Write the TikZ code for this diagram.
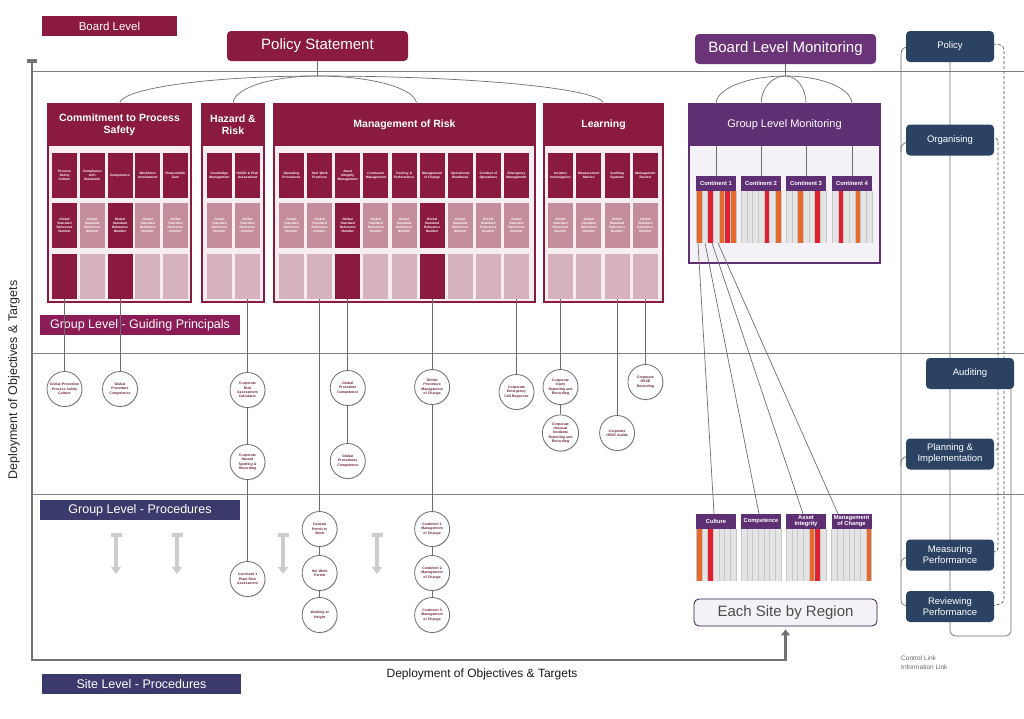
\documentclass[tikz,border=0pt]{standalone}
\usepackage{fontspec}
\setmainfont{Liberation Sans}
\usetikzlibrary{arrows.meta,shadows}
\definecolor{maroon}{HTML}{8A1A3E}
\definecolor{roseA}{HTML}{C48D9B}
\definecolor{roseB}{HTML}{D6B3BC}
\definecolor{paleR}{HTML}{F8EEF1}
\definecolor{gpmag}{HTML}{8C1C56}
\definecolor{procnav}{HTML}{3B3A6C}
\definecolor{purp}{HTML}{5F2F73}
\definecolor{purpL}{HTML}{6B3479}
\definecolor{paleP}{HTML}{F5F2F7}
\definecolor{navy}{HTML}{2B4263}
\definecolor{orng}{HTML}{E8692C}
\definecolor{redd}{HTML}{DF2130}
\definecolor{stripe}{HTML}{E4E4E4}
\definecolor{lineg}{HTML}{6E6E6E}
\definecolor{circtxt}{HTML}{6A1F36}
\newcommand\mystripes[4]{%
  \foreach \cc [count=\kk] in {#4}{%
    \fill[fill=\cc] ({#1+(\kk-1)*40/7},#2) rectangle ({#1+\kk*40/7},#3);
    \draw[draw=black!22, line width=0.3pt] ({#1+(\kk-1)*40/7},#2) -- ({#1+(\kk-1)*40/7},#3);
  }%
  \draw[draw=black!22, line width=0.3pt] ({#1+40},#2) -- ({#1+40},#3);
}
\begin{document}
\begin{tikzpicture}[x=1pt,y=-1pt,
  cellbox/.style={minimum width=25pt, minimum height=45pt, inner sep=0pt, align=center, text width=24pt, text=white, font=\fontsize{3.3}{4}\selectfont\bfseries},
  frame/.style={draw=maroon, line width=1.2pt, fill=paleR},
  hdr/.style={fill=maroon, text=white, font=\fontsize{10.5}{12}\selectfont\bfseries, align=center, inner sep=0pt, minimum height=42pt},
  conn/.style={draw=lineg, line width=0.7pt},
  hline/.style={draw=black!50, line width=0.8pt},
  thickline/.style={draw=black!55, line width=2.6pt},
  circ/.style={circle, draw=lineg, line width=0.8pt, fill=white, minimum size=35pt, inner sep=0pt, align=center, text width=30pt, font=\fontsize{3.5}{4.3}\selectfont\bfseries, text=circtxt, drop shadow={opacity=0.25, shadow xshift=0.6pt, shadow yshift=-0.9pt}},
  nav/.style={rounded corners=4pt, fill=navy, text=white, minimum width=88pt, minimum height=31pt, inner sep=0pt, align=center, font=\fontsize{9.5}{11}\selectfont},
  conth/.style={fill=purp, text=white, minimum width=40pt, minimum height=15pt, inner sep=0pt, align=center, font=\fontsize{5.8}{6.2}\selectfont\bfseries},
  lvl/.style={text=white, inner sep=0pt, minimum height=20pt},
  garrow/.style={draw=black!20, line width=3.5pt, {Bar[width=11pt]}-{Triangle[width=10pt,length=7pt]}},
  dsh/.style={draw=black!70, line width=0.7pt, dashed, dash pattern=on 3pt off 2pt}
]
\useasboundingbox (0,0) rectangle (1024,718);
\fill[white] (0,0) rectangle (1024,718);

% horizontal level lines
\draw[hline] (32,71) -- (1024,71);
\draw[hline] (32,353) -- (1024,353);
\draw[hline] (32,494) -- (1024,494);

% level labels
\node[lvl, fill=maroon, minimum width=135pt, font=\fontsize{11.5}{13}\selectfont] (board) at (109.5,26) {Board Level};
\node[lvl, fill=gpmag, minimum width=200pt, font=\fontsize{12.5}{14}\selectfont] (glgp) at (140,325) {Group Level - Guiding Principals};
\node[lvl, fill=procnav, minimum width=200pt, font=\fontsize{12.5}{14}\selectfont] (glpr) at (140,510) {Group Level - Procedures};
\node[lvl, fill=procnav, minimum width=199pt, font=\fontsize{12.5}{14}\selectfont] (slpr) at (141.5,684) {Site Level - Procedures};

% vertical label
\node[rotate=90, font=\fontsize{12.5}{14}\selectfont, text=black!85] (vlab) at (14,380) {Deployment of Objectives \& Targets};
\node[font=\fontsize{12}{14}\selectfont, text=black!90] (btxt) at (482,674) {Deployment of Objectives \& Targets};

% Policy statement & board monitoring
\node[fill=maroon, rounded corners=4pt, minimum width=181pt, minimum height=30pt, text=white, inner sep=0pt, font=\fontsize{15}{17}\selectfont] (ps) at (317.5,46) {Policy Statement};
\node[fill=purpL, rounded corners=4pt, minimum width=181pt, minimum height=30pt, text=white, inner sep=0pt, font=\fontsize{15}{17}\selectfont] (blm) at (785.5,49) {Board Level Monitoring};

% ---- Commitment to Process Safety
\draw[frame] (48,104) rectangle (191,302);
\node[hdr, minimum width=143pt] (cpsH) at (119.5,125) {Commitment to Process\\Safety};
\foreach \i/\tx in {1/{Process\\Safety\\Culture},2/{Compliance\\with\\Standards},3/{Competence},4/{Workforce\\Involvement},5/{Responsible\\Care}}
  \node[cellbox, fill=maroon] (cps-1-\i) at ({64.5+27.75*(\i-1)},175.5) {\tx};
\foreach \i/\f in {1/maroon,2/roseA,3/maroon,4/roseA,5/roseA}
  \node[cellbox, fill=\f] (cps-2-\i) at ({64.5+27.75*(\i-1)},225.5) {Global\\Standard\\Reference\\Number};
\foreach \i/\f in {1/maroon,2/roseB,3/maroon,4/roseB,5/roseB}
  \node[cellbox, fill=\f] (cps-3-\i) at ({64.5+27.75*(\i-1)},276.5) {};

% ---- Hazard & Risk
\draw[frame] (202,104) rectangle (264,302);
\node[hdr, minimum width=62pt] (hrH) at (233,125) {Hazard \&\\Risk};
\foreach \i/\tx in {1/{Knowledge\\Management},2/{HAZID \& Risk\\Assessment}}
  \node[cellbox, fill=maroon] (hr-1-\i) at ({219.5+28*(\i-1)},175.5) {\tx};
\foreach \i in {1,2}{
  \node[cellbox, fill=roseA] (hr-2-\i) at ({219.5+28*(\i-1)},225.5) {Global\\Standard\\Reference\\Number};
  \node[cellbox, fill=roseB] (hr-3-\i) at ({219.5+28*(\i-1)},276.5) {};
}

% ---- Management of Risk
\draw[frame] (274,104) rectangle (535,302);
\node[hdr, minimum width=261pt] (mrH) at (404.5,125) {Management of Risk};
\foreach \i/\tx in {1/{Operating\\Procedures},2/{Safe Work\\Practices},3/{Asset\\Integrity\\Management},4/{Contractor\\Management},5/{Training \&\\Performance},6/{Management\\of Change},7/{Operational\\Readiness},8/{Conduct of\\Operations},9/{Emergency\\Management}}
  \node[cellbox, fill=maroon] (mr-1-\i) at ({291.5+28.125*(\i-1)},175.5) {\tx};
\foreach \i/\f in {1/roseA,2/roseA,3/maroon,4/roseA,5/roseA,6/maroon,7/roseA,8/roseA,9/roseA}
  \node[cellbox, fill=\f] (mr-2-\i) at ({291.5+28.125*(\i-1)},225.5) {Global\\Standard\\Reference\\Number};
\foreach \i/\f in {1/roseB,2/roseB,3/maroon,4/roseB,5/roseB,6/maroon,7/roseB,8/roseB,9/roseB}
  \node[cellbox, fill=\f] (mr-3-\i) at ({291.5+28.125*(\i-1)},276.5) {};

% ---- Learning
\draw[frame] (544,104) rectangle (663,302);
\node[hdr, minimum width=119pt] (lnH) at (603.5,125) {Learning};
\foreach \i/\tx in {1/{Incident\\Investigation},2/{Measurement\\Metrics},3/{Auditing\\Systems},4/{Management\\Review}}
  \node[cellbox, fill=maroon] (ln-1-\i) at ({560.5+28.3*(\i-1)},175.5) {\tx};
\foreach \i in {1,...,4}{
  \node[cellbox, fill=roseA] (ln-2-\i) at ({560.5+28.3*(\i-1)},225.5) {Global\\Standard\\Reference\\Number};
  \node[cellbox, fill=roseB] (ln-3-\i) at ({560.5+28.3*(\i-1)},276.5) {};
}

% arcs from policy statement
\coordinate (psj) at (317.5,76);
\draw[conn] (ps.south) -- (psj);
\draw[conn] (psj) to[out=180,in=90,out distance=110pt,in distance=15pt] (cpsH.north);
\draw[conn] (psj) to[out=180,in=90,out distance=48pt,in distance=15pt] (hrH.north);
\draw[conn] (psj) to[out=0,in=90,out distance=55pt,in distance=15pt] ([xshift=12pt]mrH.north);
\draw[conn] (psj) to[out=0,in=90,out distance=157pt,in distance=15pt] (lnH.north);

% ---- Group Level Monitoring
\draw[draw=purp, line width=1.2pt, fill=paleP] (689,104) rectangle (880,263);
\node[fill=purp, text=white, minimum width=191pt, minimum height=42pt, inner sep=0pt, font=\fontsize{11}{13}\selectfont] (glmH) at (784.5,125) {Group Level Monitoring};
\foreach \i/\x in {1/716,2/761,3/806,4/852}
  \node[conth] (ct\i) at (\x,183.5) {Continent \i};
\mystripes{696}{191}{243}{orng,stripe,redd,stripe,orng,redd,orng}
\mystripes{741}{191}{243}{stripe,stripe,stripe,stripe,redd,stripe,orng}
\mystripes{786}{191}{243}{stripe,stripe,orng,stripe,stripe,redd,stripe}
\mystripes{832}{191}{243}{stripe,redd,stripe,stripe,orng,stripe,stripe}
\coordinate (blmj) at (785.5,76);
\draw[conn] (blm.south) -- (blmj);
\foreach \i/\o/\d in {1/180/38,2/180/14,3/0/12,4/0/37}{
  \draw[conn] (blmj) to[out=\o,in=90,out distance=\d pt,in distance=15pt] (glmH.north -| ct\i.north);
  \draw[conn] (glmH.south -| ct\i.north) -- (ct\i.north);
}

% ---- Site level monitoring
\foreach \i/\x/\tx in {1/716/{Culture},2/761/{Competence},3/806/{Asset\\Integrity},4/851.5/{Management\\of Change}}
  \node[conth] (st\i) at (\x,521.5) {\tx};
\mystripes{696}{529}{581}{orng,stripe,redd,stripe,stripe,stripe,stripe}
\mystripes{741}{529}{581}{stripe,stripe,stripe,stripe,stripe,stripe,stripe}
\mystripes{786}{529}{581}{stripe,stripe,stripe,stripe,orng,redd,stripe}
\mystripes{831.5}{529}{581}{stripe,stripe,stripe,stripe,stripe,stripe,orng}
\coordinate (ca1) at (698,243);
\coordinate (ca2) at (705,243);
\coordinate (ca3) at (712,243);
\coordinate (ca4) at (718,243);
\draw[conn] (ca1) -- ([xshift=-2pt]st1.north);
\draw[conn] (ca2) -- ([xshift=-2pt]st2.north);
\draw[conn] (ca3) -- ([xshift=-3pt]st3.north);
\draw[conn] (ca4) -- ([xshift=-13.5pt]st4.north);
\node[draw=black!45!purp, line width=0.8pt, fill=paleP, rounded corners=5pt, minimum width=183pt, minimum height=27pt, inner sep=0pt, font=\fontsize{15}{17}\selectfont, text=black!70] (site) at (785.5,612.5) {Each Site by Region};

% ---- thick deployment frame
\fill[black!55] (27,59) rectangle (37,63);
\draw[thickline, -{Triangle[width=9pt,length=6pt]}, shorten >=3pt] (32,61) -- (32,660) -| (site.south);

% ---- circles
\node[circ] (gp1) at (cps-3-1 |- 0,389) {Global Procedure\\Process Safety\\Culture};
\node[circ] (gp2) at (cps-3-3 |- 0,389) {Global\\Procedure\\Competence};
\node[circ] (cr1) at (hr-3-2 |- 0,390) {Corporate\\Risk\\Assessment\\Calculator};
\node[circ] (cr2) at (hr-3-2 |- 0,462) {Corporate\\Hazard\\Spotting \&\\Recording};
\node[circ] (cpra) at (hr-3-2 |- 0,579) {Continent 1\\Plant Risk\\Assessment};
\node[circ] (gpc) at (mr-3-3 |- 0,388) {Global\\Procedure\\Competence};
\node[circ] (gpc2) at (mr-3-3 |- 0,461) {Global\\Procedures\\Competence};
\node[circ] (gptw) at (mr-3-2 |- 0,529) {General\\Permit to\\Work};
\node[circ] (hwp) at (mr-3-2 |- 0,573) {Hot Work\\Permit};
\node[circ] (wah) at (mr-3-2 |- 0,615) {Working at\\Height};
\node[circ] (gpmoc) at (mr-3-6 |- 0,387) {Global\\Procedure\\Management\\of Change};
\node[circ] (c1moc) at (mr-3-6 |- 0,529) {Continent 1\\Management\\of Change};
\node[circ] (c2moc) at (mr-3-6 |- 0,573) {Continent 2\\Management\\of Change};
\node[circ] (c3moc) at (mr-3-6 |- 0,615) {Continent 3\\Management\\of Change};
\node[circ] (cecr) at (mr-3-9 |- 0,392) {Corporate\\Emergency\\Call Response};
\node[circ] (cirr) at (ln-3-1 |- 0,387) {Corporate\\Injury\\Reporting and\\Recording};
\node[circ] (cuirr) at (ln-3-1 |- 0,433) {Corporate\\Unusual\\Incidents\\Reporting and\\Recording};
\node[circ] (chssea) at (ln-3-3 |- 0,433) {Corporate\\HSSE Audits};
\node[circ] (chsser) at (ln-3-4 |- 0,382) {Corporate\\HSSE\\Recording};

\draw[conn] (cps-3-1) -- (gp1);
\draw[conn] (cps-3-3) -- (gp2);
\draw[conn] (hr-3-2) -- (cr1);
\draw[conn] (cr1) -- (cr2);
\draw[conn] (cr2) -- (cpra);
\draw[conn] (mr-3-3) -- (gpc);
\draw[conn] (gpc) -- (gpc2);
\draw[conn] (mr-3-2) -- (gptw);
\draw[conn] (gptw) -- (hwp);
\draw[conn] (hwp) -- (wah);
\draw[conn] (mr-3-6) -- (gpmoc);
\draw[conn] (gpmoc) -- (c1moc);
\draw[conn] (c1moc) -- (c2moc);
\draw[conn] (c2moc) -- (c3moc);
\draw[conn] (mr-3-9) -- (cecr);
\draw[conn] (ln-3-1) -- (cirr);
\draw[conn] (cirr) -- (cuirr);
\draw[conn] (ln-3-3) -- (chssea);
\draw[conn] (ln-3-4) -- (chsser);

% gray arrows
\foreach \x in {116,177,283,377}
  \draw[garrow] (\x,533) -- (\x,574);

% ---- right column
\coordinate (polc) at (950,46.5);
\coordinate (orgc) at (950,140);
\coordinate (planc) at (950,454);
\coordinate (measc) at (950,555);
\coordinate (revc) at (950,606.5);
\coordinate (audc) at (970,373.5);
% central line
\draw[conn, rounded corners=6pt] (polc) -- (revc) -- (950,636) -- (1011,636) -- (1011,380);
% control link (left)
\draw[conn] (907,47) .. controls (901,49) .. (901,60) -- (901,597) .. controls (901,604) .. (907,606);
\draw[conn] (901,152) .. controls (901,145) .. (907,142);
\draw[conn] (901,466) .. controls (901,459) .. (907,456);
\draw[conn] (901,567) .. controls (901,560) .. (907,557);
% information links (dashed)
\draw[dsh] (993,44) .. controls (1004,45) .. (1004,56) -- (1004,595) .. controls (1004,603) .. (992,606);
\draw[dsh] (991,137) .. controls (998,138) .. (998,148) -- (998,544) .. controls (998,551) .. (991,553);
\draw[dsh] (998,443) .. controls (998,450) .. (991,452);

\node[nav] (pol) at (polc) {Policy};
\node[nav] (org) at (orgc) {Organising};
\node[nav] (aud) at (audc) {Auditing};
\node[nav] (plan) at (planc) {Planning \&\\Implementation};
\node[nav] (meas) at (measc) {Measuring\\Performance};
\node[nav] (rev) at (revc) {Reviewing\\Performance};

\node[anchor=west, inner sep=0pt, font=\fontsize{6.5}{7}\selectfont, text=black!60] (cl) at (901,658) {Control Link};
\node[anchor=west, inner sep=0pt, font=\fontsize{6.5}{7}\selectfont, text=black!60] (il) at (901,667) {Information Link};
\end{tikzpicture}
\end{document}
